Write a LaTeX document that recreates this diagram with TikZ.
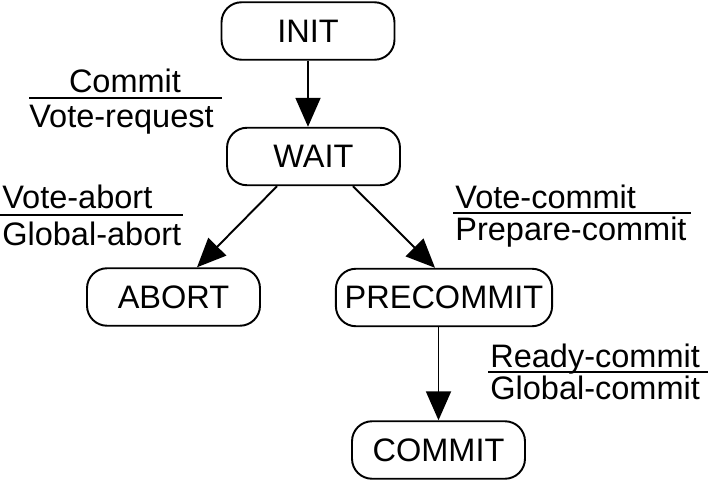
\documentclass[tikz,border=0pt]{standalone}
\usepackage{fontspec}
\setmainfont{Liberation Sans}
\usetikzlibrary{arrows.meta}
\tikzset{
state/.style={draw,line width=1.1pt,rounded corners=0.4cm,minimum width=3.46cm,minimum height=1.15cm,inner xsep=5pt,font=\fontsize{18.5}{22}\selectfont},
lbl/.style={inner sep=0pt,font=\fontsize{18.5}{22}\selectfont},
arr/.style={line width=1.1pt,-{Triangle[length=0.58cm,width=0.5cm]}}
}
\begin{document}
\begin{tikzpicture}[x=0.02cm,y=-0.02cm]
\useasboundingbox (0,0) rectangle (713,483);
%состояния
\node [state] (init) at (308,31) {INIT};
\node [state] (wait) at (313.5,156.5) {WAIT};
\node [state] (abort) at (173.5,297) {ABORT};
\node [state] (precommit) at (444,297.5) {PRECOMMIT};
\node [state] (commit) at (438.5,450) {COMMIT};
%переходы
\draw [arr] (init.south) -- (init.south |- wait.north);
\draw [arr] ([xshift=-0.73cm]wait.south) -- ([xshift=0.47cm]abort.north);
\draw [arr] ([xshift=0.79cm]wait.south) -- ([xshift=-0.18cm]precommit.north);
\draw [arr] (commit.north |- precommit.south) -- (commit.north);
%подписи
\node [lbl,anchor=base] (commit1) at (125,92) {Commit};
\node [lbl,anchor=base west] (request1) at (29,128) {Vote-request};
\draw [line width=1.1pt] (29,98) -- (222,98);
\node [lbl,anchor=base west] (abort1) at (2,208) {Vote-abort};
\node [lbl,anchor=base west] (abort2) at (2,245) {Global-abort};
\draw [line width=1.1pt] (0,215) -- (183,215);
\node [lbl,anchor=base west] (vcommit1) at (455,208) {Vote-commit};
\node [lbl,anchor=base west] (prepare1) at (455,240) {Prepare-commit};
\draw [line width=1.1pt] (453,213) -- (691,213);
\node [lbl,anchor=base west] (ready1) at (490,367) {Ready-commit};
\node [lbl,anchor=base west] (gcommit1) at (490,399) {Global-commit};
\draw [line width=1.1pt] (488,372) -- (708,372);
\end{tikzpicture}
\end{document}
